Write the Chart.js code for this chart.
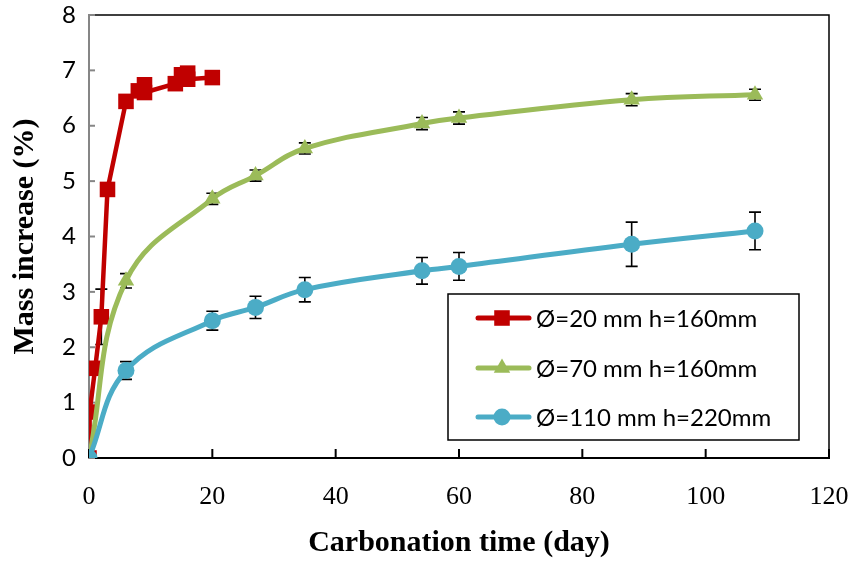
<!DOCTYPE html>
<html>
<head>
<meta charset="utf-8">
<script src="https://cdn.jsdelivr.net/npm/chart.js@4.4.1/dist/chart.umd.min.js"></script>
<style>
html,body{margin:0;padding:0;background:#fff;}
#wrap{width:853px;height:561px;}
</style>
</head>
<body>
<div id="wrap"><canvas id="c" width="853" height="561"></canvas></div>
<script>
// ---- data ----
const seriesNames = ['Ø=20 mm h=160mm', 'Ø=70 mm h=160mm', 'Ø=110 mm h=220mm'];

const redX   = [0, 0.1, 1, 2, 3, 6, 8, 9, 9, 14, 15, 16, 16, 20];
const redY   = [0, 0.83, 1.62, 2.55, 4.85, 6.44, 6.63, 6.74, 6.60, 6.76, 6.92, 6.95, 6.84, 6.87];
const redErr = [0, 0, 0, 0.5, 0, 0, 0, 0, 0, 0, 0, 0, 0, 0];

const greenX   = [0, 6, 20, 27, 35, 54, 60, 88, 108];
const greenY   = [0, 3.20, 4.68, 5.10, 5.59, 6.04, 6.14, 6.47, 6.56];
const greenErr = [0, 0.13, 0.10, 0.10, 0.10, 0.11, 0.11, 0.11, 0.10];

const blueX   = [0, 6, 20, 27, 35, 54, 60, 88, 108];
const blueY   = [0, 1.58, 2.48, 2.72, 3.04, 3.38, 3.46, 3.86, 4.10];
const blueErr = [0, 0.16, 0.17, 0.20, 0.22, 0.24, 0.25, 0.40, 0.34];

const xTickValues = [0, 20, 40, 60, 80, 100, 120];
const yTickValues = [0, 1, 2, 3, 4, 5, 6, 7, 8];

const xTitle = 'Carbonation time (day)';
const yTitle = 'Mass increase (%)';

// ---- styling ----
const RED = '#C00000', GREEN = '#9BBB59', BLUE = '#4BACC6';
const toPts = (xs, ys) => xs.map((x, i) => ({x: x, y: ys[i]}));
const ERRS = [redErr, greenErr, blueErr];

function drawMarker(ctx, style, x, y, r, color) {
  ctx.save();
  ctx.fillStyle = color;
  ctx.beginPath();
  if (style === 'rect') {
    const s = r * Math.SQRT1_2;
    ctx.rect(x - s, y - s, 2 * s, 2 * s);
  } else if (style === 'triangle') {
    const h = r * 1.5, w = r * Math.sqrt(3);
    ctx.moveTo(x, y - h * 2 / 3);
    ctx.lineTo(x + w / 2, y + h / 3);
    ctx.lineTo(x - w / 2, y + h / 3);
    ctx.closePath();
  } else {
    ctx.arc(x, y, r, 0, Math.PI * 2);
  }
  ctx.fill();
  ctx.restore();
}

const deco = {
  id: 'deco',
  beforeDatasetsDraw(chart) {
    const {ctx, chartArea: a, scales: {x, y}} = chart;
    ctx.save();
    // top and right frame
    ctx.strokeStyle = '#000';
    ctx.lineWidth = 1.5;
    ctx.beginPath();
    ctx.moveTo(a.left, a.top);
    ctx.lineTo(a.right, a.top);
    ctx.lineTo(a.right, a.bottom);
    ctx.stroke();
    // inside tick marks
    ctx.lineWidth = 2;
    ctx.strokeStyle = '#000';
    x.ticks.forEach(t => {
      const px = x.getPixelForValue(t.value);
      ctx.beginPath(); ctx.moveTo(px, a.bottom); ctx.lineTo(px, a.bottom - 9); ctx.stroke();
    });
    ctx.strokeStyle = '#868686';
    y.ticks.forEach(t => {
      const py = y.getPixelForValue(t.value);
      ctx.beginPath(); ctx.moveTo(a.left, py); ctx.lineTo(a.left + 6, py); ctx.stroke();
    });
    // error bars
    ctx.strokeStyle = '#000';
    ctx.lineWidth = 1.6;
    chart.data.datasets.forEach((ds, i) => {
      const errs = ERRS[i];
      ds.data.forEach((p, j) => {
        const e = errs[j];
        if (!e) return;
        const px = x.getPixelForValue(p.x);
        const y1 = y.getPixelForValue(p.y + e), y2 = y.getPixelForValue(p.y - e);
        ctx.beginPath();
        ctx.moveTo(px, y1); ctx.lineTo(px, y2);
        ctx.moveTo(px - 6, y1); ctx.lineTo(px + 6, y1);
        ctx.moveTo(px - 6, y2); ctx.lineTo(px + 6, y2);
        ctx.stroke();
      });
    });
    ctx.restore();
  },
  afterDraw(chart) {
    const {ctx} = chart;
    // legend box
    const L = 448, T = 294, R = 799, B = 440;
    ctx.save();
    ctx.fillStyle = '#fff';
    ctx.fillRect(L, T, R - L, B - T);
    ctx.strokeStyle = '#000';
    ctx.lineWidth = 1.5;
    ctx.strokeRect(L, T, R - L, B - T);
    const rows = [318, 368, 417];
    chart.data.datasets.forEach((ds, i) => {
      const ry = rows[i];
      ctx.strokeStyle = ds.borderColor;
      ctx.lineWidth = 5;
      ctx.lineCap = 'round';
      ctx.beginPath(); ctx.moveTo(478, ry); ctx.lineTo(529, ry); ctx.stroke();
      drawMarker(ctx, ds.pointStyle, 502, ry, ds.pointRadius, ds.pointBackgroundColor);
      ctx.fillStyle = '#000';
      ctx.font = '24px Lato';
      ctx.textBaseline = 'middle';
      ctx.textAlign = 'left';
      ctx.fillText(ds.label, 536, ry + 1);
    });
    ctx.restore();
  }
};

new Chart(document.getElementById('c'), {
  type: 'line',
  data: {
    datasets: [
      {label: seriesNames[0], data: toPts(redX, redY), borderColor: RED, backgroundColor: RED,
       pointBackgroundColor: RED, pointBorderWidth: 0, pointStyle: 'rect', pointRadius: 11,
       borderWidth: 4.5, tension: 0, order: 3},
      {label: seriesNames[1], data: toPts(greenX, greenY), borderColor: GREEN, backgroundColor: GREEN,
       pointBackgroundColor: GREEN, pointBorderWidth: 0, pointStyle: 'triangle', pointRadius: 9.5,
       borderWidth: 5, tension: 0.4, order: 2},
      {label: seriesNames[2], data: toPts(blueX, blueY), borderColor: BLUE, backgroundColor: BLUE,
       pointBackgroundColor: BLUE, pointBorderWidth: 0, pointStyle: 'circle', pointRadius: 8.5,
       borderWidth: 5, tension: 0.4, order: 1}
    ]
  },
  options: {
    responsive: false,
    animation: false,
    devicePixelRatio: 1,
    layout: {padding: {top: 15, right: 24, left: 0, bottom: 0}},
    plugins: {legend: {display: false}, tooltip: {enabled: false}},
    elements: {line: {borderCapStyle: 'round', borderJoinStyle: 'round'}},
    scales: {
      x: {
        type: 'linear', min: 0, max: 120,
        afterBuildTicks: s => { s.ticks = xTickValues.map(v => ({value: v})); },
        afterFit: s => { s.height = 103; s.paddingLeft = 0; s.paddingRight = 0; },
        grid: {display: false, drawTicks: false},
        border: {display: true, color: '#000', width: 2},
        ticks: {padding: 24, color: '#000', font: {family: 'Liberation Serif', size: 26}, maxRotation: 0},
        title: {display: true, text: xTitle, color: '#000',
                font: {family: 'Liberation Serif', size: 30, weight: 'bold'}, padding: {top: 0, bottom: 0}}
      },
      y: {
        type: 'linear', min: 0, max: 8,
        afterBuildTicks: s => { s.ticks = yTickValues.map(v => ({value: v})); },
        afterFit: s => { s.width = 89; s.paddingTop = 0; s.paddingBottom = 0; },
        grid: {display: false, drawTicks: false},
        border: {display: true, color: '#868686', width: 2},
        ticks: {padding: 13, color: '#000', font: {family: 'Lato', size: 24}},
        title: {display: true, text: yTitle, color: '#000',
                font: {family: 'Liberation Serif', size: 30, weight: 'bold'}, padding: {top: 7, bottom: 0}}
      }
    }
  },
  plugins: [deco]
});
</script>
</body>
</html>
